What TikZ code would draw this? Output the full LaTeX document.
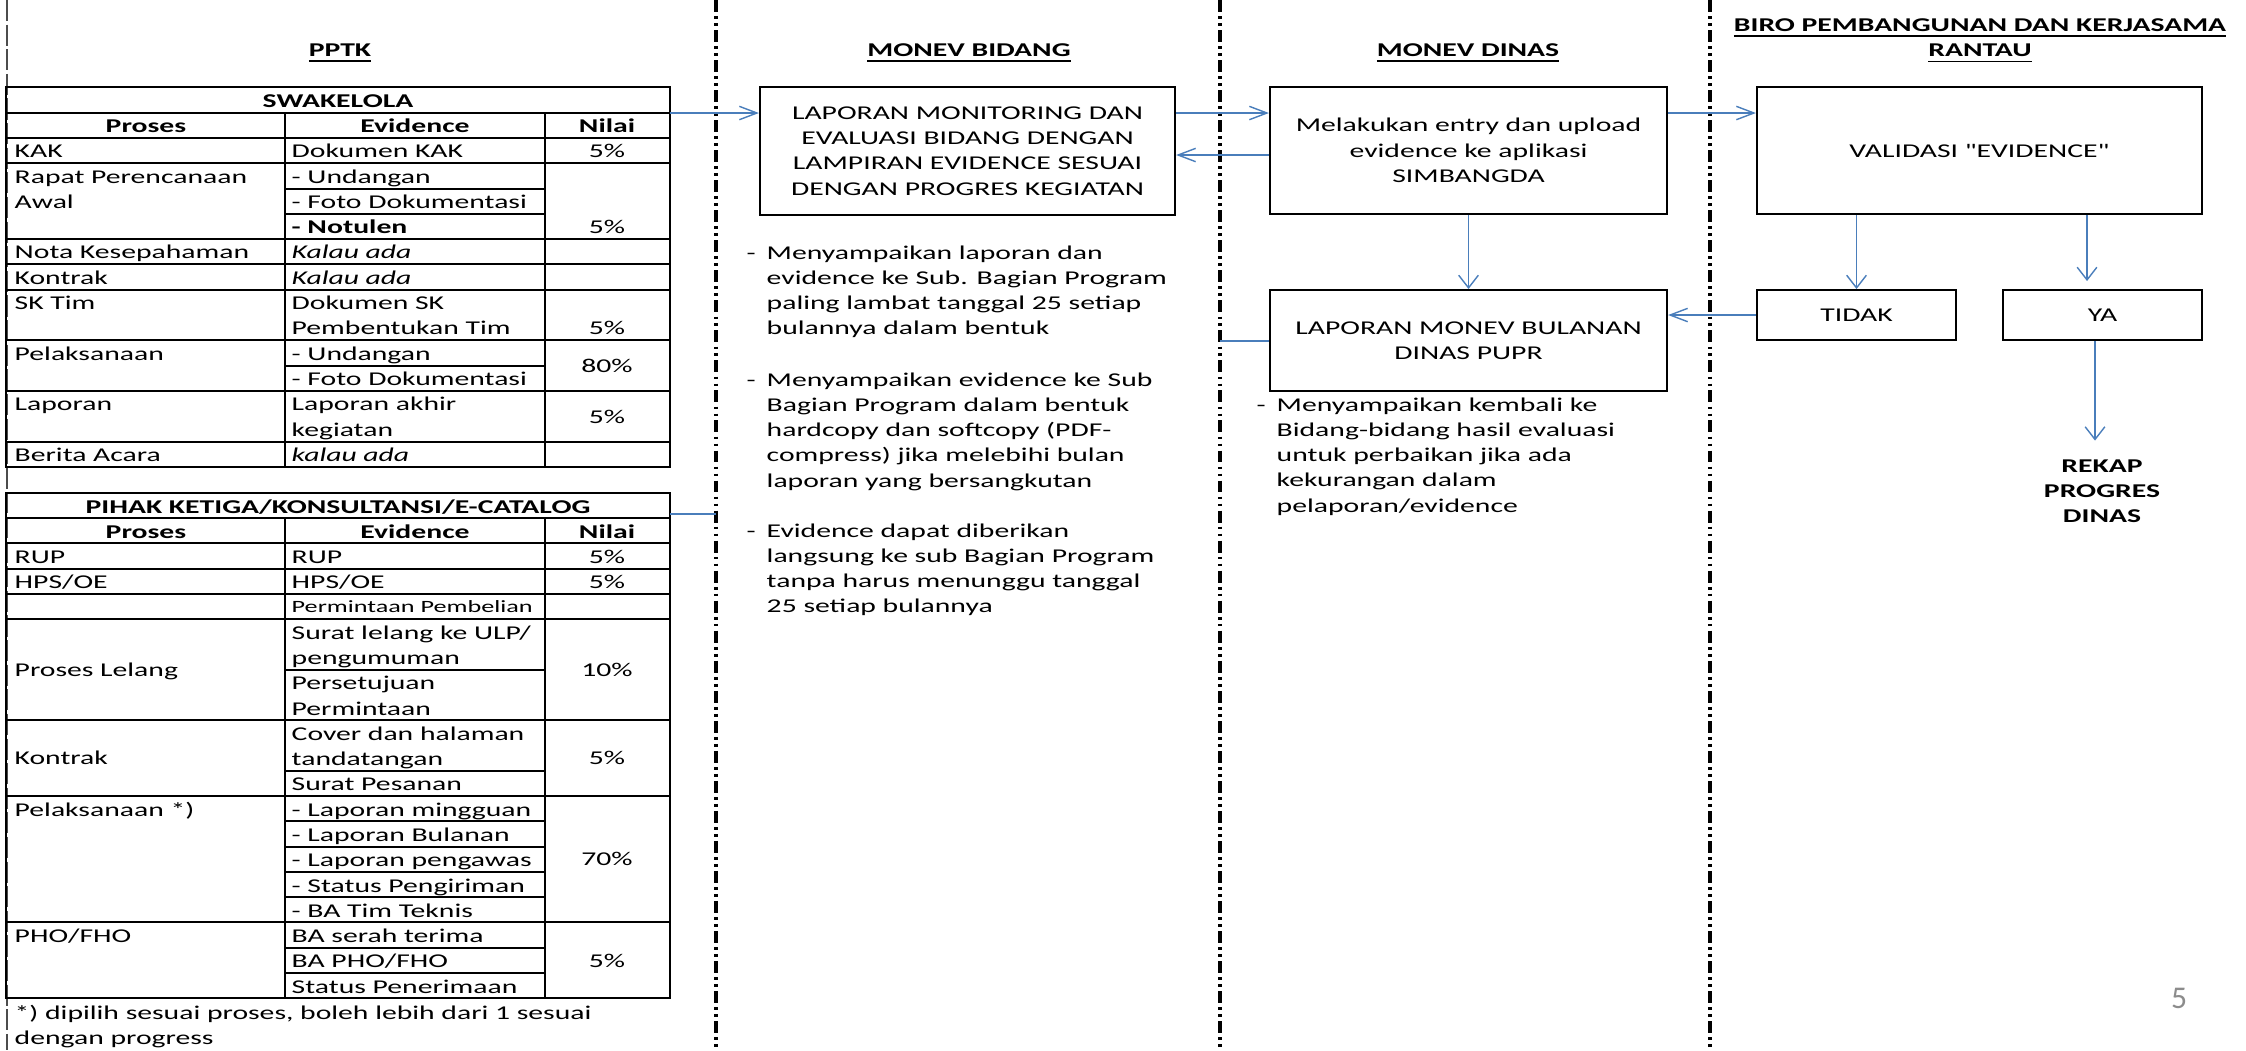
\documentclass[tikz,border=0pt]{standalone}
\usepackage{fontspec}
\setmainfont{Carlito}[FakeStretch=1.52,Ligatures=TeXOff]
\newfontfamily\pagefont{Carlito}
\usetikzlibrary{arrows.meta}
\definecolor{flow}{RGB}{74,126,187}
\definecolor{pnum}{RGB}{140,140,140}
\newcommand{\fs}{\fontsize{5.55}{7.2}\selectfont}
\newcommand{\lines}[1]{\begin{tabular}[t]{@{}l@{}}#1\end{tabular}}
\newcommand{\clines}[1]{\begin{tabular}[t]{@{}c@{}}#1\end{tabular}}
\newcommand{\bul}[1]{\begin{tabular}[t]{@{}p{0.2cm}@{}l@{}}-&#1\end{tabular}}
\tikzset{
	box/.style={draw,line width=0.55pt,align=center,inner sep=0pt},
	cl/.style={anchor=base west,inner sep=0pt},
	cc/.style={anchor=base,inner sep=0pt},
	grid/.style={line width=0.55pt},
	lane/.style={line width=1pt,dash pattern=on 3.4pt off 1.2pt on 0.77pt off 1.2pt on 0.77pt off 1.2pt},
	link/.style={draw=flow,line width=0.4pt},
	harr/.style={link,-{Straight Barb[length=5pt,width=3.8pt]}},
	varr/.style={link,-{Straight Barb[length=3.6pt,width=5.6pt]}},
}
\begin{document}
\begin{tikzpicture}[x=0.01cm,y=-0.01cm,font=\fs]
	\useasboundingbox (0,0) rectangle (2246,1050);
	\draw[black!70,line width=0.35pt,dash pattern=on 6pt off 1pt] (7,0) -- (7,1050);
	\foreach \x in {716,1220,1710} \draw[lane] (\x,0) -- (\x,1050);
	% titles
	\node[cc] (hpptk) at (340,56) {\underline{\textbf{PPTK}}};
	\node[cc] (hbid) at (969,56) {\underline{\textbf{MONEV BIDANG}}};
	\node[cc] (hdin) at (1468,56) {\underline{\textbf{MONEV DINAS}}};
	\node[cc] (hbiro) at (1980,31) {\clines{\underline{\textbf{BIRO PEMBANGUNAN DAN KERJASAMA}}\\\underline{\textbf{RANTAU}}}};
	% swakelola
	\draw[grid] (6,87) rectangle (670,467);
	\foreach \y in {113,138,163,239,264,290,340,391,442} \draw[grid] (6,\y) -- (670,\y);
	\foreach \y in {189,214,366} \draw[grid] (285,\y) -- (545,\y);
	\draw[grid] (285,113) -- (285,467) (545,113) -- (545,467);
	\node[cc] (sw) at (338,107) {\textbf{SWAKELOLA}};
	\node[cc] (swp) at (146,132) {\textbf{Proses}};
	\node[cc] (swe) at (415,132) {\textbf{Evidence}};
	\node[cc] (swn) at (607,132) {\textbf{Nilai}};
	\foreach \y/\t [count=\i] in {157/KAK,183/Rapat Perencanaan,208/Awal,258/Nota Kesepahaman,284/Kontrak,309/SK Tim,360/Pelaksanaan,410/Laporan,461/Berita Acara}
		\node[cl] (sa\i) at (14,\y) {\t};
	\foreach \y/\t [count=\i] in {157/Dokumen KAK,183/- Undangan,208/- Foto Dokumentasi,233/\textbf{- Notulen},258/\textit{Kalau ada},284/\textit{Kalau ada},309/Dokumen SK,334/Pembentukan Tim,360/- Undangan,385/- Foto Dokumentasi,410/Laporan akhir,436/kegiatan,461/\textit{kalau ada}}
		\node[cl] (sb\i) at (291,\y) {\t};
	\foreach \y/\t [count=\i] in {157/5\%,233/5\%,334/5\%,372/80\%,423/5\%}
		\node[cc] (sc\i) at (607,\y) {\t};
	% pihak ketiga
	\draw[grid] (6,493) rectangle (670,998);
	\foreach \y in {518,543,569,594,619,720,796,922} \draw[grid] (6,\y) -- (670,\y);
	\foreach \y in {670,771,821,847,872,897,948,973} \draw[grid] (285,\y) -- (545,\y);
	\draw[grid] (285,518) -- (285,998) (545,518) -- (545,998);
	\node[cc] (pk) at (338,513) {\textbf{PIHAK KETIGA/KONSULTANSI/E-CATALOG}};
	\node[cc] (pkp) at (146,538) {\textbf{Proses}};
	\node[cc] (pke) at (415,538) {\textbf{Evidence}};
	\node[cc] (pkn) at (607,538) {\textbf{Nilai}};
	\foreach \y/\t [count=\i] in {563/{RUP},588/{HPS/OE},676/{Proses Lelang},764/{Kontrak},816/{Pelaksanaan *)},942/{PHO/FHO}}
		\node[cl] (pa\i) at (14,\y) {\t};
	\foreach \y/\t [count=\i] in {563/{RUP},588/{HPS/OE},639/{Surat lelang ke ULP/},664/{pengumuman},689/{Persetujuan},715/{Permintaan},740/{Cover dan halaman},765/{tandatangan},790/{Surat Pesanan},816/{- Laporan mingguan},841/{- Laporan Bulanan},866/{- Laporan pengawas},892/{- Status Pengiriman},917/{- BA Tim Teknis},942/{BA serah terima},967/{BA PHO/FHO},993/{Status Penerimaan}}
		\node[cl] (pb\i) at (291,\y) {\t};
	\node[cl,font=\fontsize{4.9}{6}\selectfont] (pbx) at (291,612) {Permintaan Pembelian};
	\foreach \y/\t [count=\i] in {563/5\%,588/5\%,676/10\%,764/5\%,865/70\%,967/5\%}
		\node[cc] (pc\i) at (607,\y) {\t};
	\node[cl] (note) at (14,1019) {\lines{*) dipilih sesuai proses, boleh lebih dari 1 sesuai\\dengan progress}};
	% boxes
	\node[box,minimum width=4.15cm,minimum height=1.28cm] (lap) at (967.5,151) {LAPORAN MONITORING DAN\\EVALUASI BIDANG DENGAN\\LAMPIRAN EVIDENCE SESUAI\\DENGAN PROGRES KEGIATAN};
	\node[box,minimum width=3.97cm,minimum height=1.27cm] (ent) at (1468.5,150.5) {Melakukan entry dan upload\\evidence ke aplikasi\\SIMBANGDA};
	\node[box,minimum width=3.97cm,minimum height=1.01cm] (mb) at (1468.5,340.5) {LAPORAN MONEV BULANAN\\DINAS PUPR};
	\node[box,minimum width=4.45cm,minimum height=1.27cm] (val) at (1979.5,150.5) {VALIDASI "EVIDENCE"};
	\node[box,minimum width=1.99cm,minimum height=0.5cm] (tdk) at (1856.5,315) {TIDAK};
	\node[box,minimum width=1.99cm,minimum height=0.5cm] (ya) at (2102.5,315) {YA};
	\node[cc] (rek) at (2102,472) {\clines{\textbf{REKAP}\\\textbf{PROGRES}\\\textbf{DINAS}}};
	% notes
	\node[cl] (bb1) at (746,259) {\bul{Menyampaikan laporan dan\\&evidence ke Sub. Bagian Program\\&paling lambat tanggal 25 setiap\\&bulannya dalam bentuk}};
	\node[cl] (bb2) at (746,386) {\bul{Menyampaikan evidence ke Sub\\&Bagian Program dalam bentuk\\&hardcopy dan softcopy (PDF-\\&compress) jika melebihi bulan\\&laporan yang bersangkutan}};
	\node[cl] (bb3) at (746,537) {\bul{Evidence dapat diberikan\\&langsung ke sub Bagian Program\\&tanpa harus menunggu tanggal\\&25 setiap bulannya}};
	\node[cl] (bd1) at (1256,411) {\bul{Menyampaikan kembali ke\\&Bidang-bidang hasil evaluasi\\&untuk perbaikan jika ada\\&kekurangan dalam\\&pelaporan/evidence}};
	\node[text=pnum,font=\pagefont\fontsize{9}{10}\selectfont] (pg) at (2179,998) {5};
	% connectors
	\coordinate (t1) at (670,113);
	\coordinate (t2) at (670,514);
	\coordinate (t3) at (716,514);
	\coordinate (m1) at (1220,341);
	\draw[harr] (t1) -- (t1 -| lap.west);
	\draw[harr] (lap.east |- t1) -- (ent.west |- t1);
	\draw[harr] (ent.west |- 0,155) -- (lap.east |- 0,155);
	\draw[harr] (ent.east |- t1) -- (val.west |- t1);
	\draw[varr] (ent.south) -- (mb.north);
	\draw[varr] (val.south -| tdk.north) -- (tdk.north);
	\draw[varr,shorten >=0.08cm] (val.south -| 2087,0) -- (ya.north -| 2087,0);
	\draw[varr,shorten >=0.13cm] (ya.south -| 2095,0) -- (rek.north -| 2095,0);
	\draw[harr] (tdk.west) -- (mb.east |- tdk.west);
	\draw[link] (mb.west |- m1) -- (m1);
	\draw[link] (t2) -- (t3);
\end{tikzpicture}
\end{document}
